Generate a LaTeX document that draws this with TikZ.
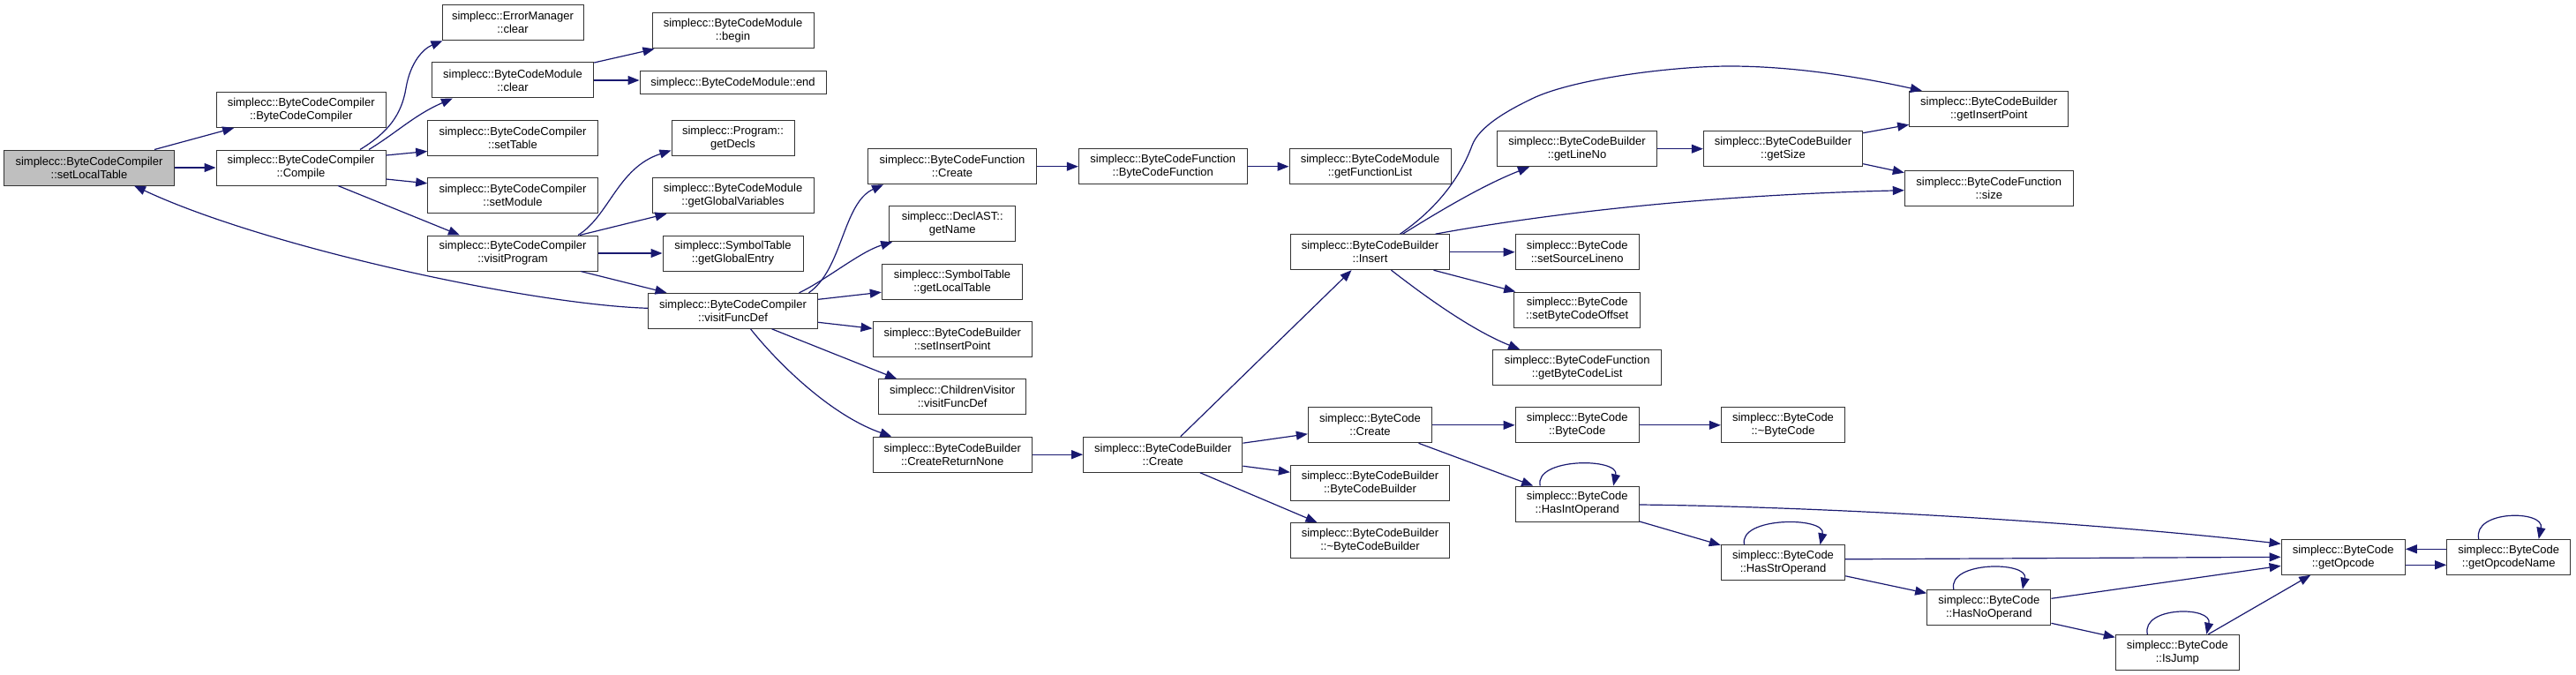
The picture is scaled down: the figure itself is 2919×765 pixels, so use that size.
\documentclass[tikz,border=0pt]{standalone}
\usepackage{fontspec}
\setmainfont{Liberation Sans}
\usetikzlibrary{arrows.meta}
\definecolor{edgeblue}{HTML}{191970}
\definecolor{boxgray}{HTML}{BFBFBF}
\begin{document}
\begin{tikzpicture}[x=1pt,y=-1pt,
 fn/.style={draw=black!80, line width=1pt, rectangle, minimum height=40pt, inner sep=0pt, align=center, font=\fontsize{13}{15}\selectfont, fill=white},
 conn/.style={draw=edgeblue, line width=1.2pt, -{Triangle[length=13pt,width=10pt]}},
]
\useasboundingbox (0,0) rectangle (2919,765);
% nodes
\node[fn, minimum width=192.6pt, fill=boxgray] (slt) at (101,190) {simplecc::ByteCodeCompiler\\::setLocalTable};
\node[fn, minimum width=192.3pt] (bcc) at (341.2,124.5) {simplecc::ByteCodeCompiler\\::ByteCodeCompiler};
\node[fn, minimum width=192pt] (cmp) at (341,190) {simplecc::ByteCodeCompiler\\::Compile};
\node[fn, minimum width=160pt] (emc) at (581,25.8) {simplecc::ErrorManager\\::clear};
\node[fn, minimum width=183.4pt] (bmc) at (581,91) {simplecc::ByteCodeModule\\::clear};
\node[fn, minimum width=192.6pt] (stt) at (581,156.5) {simplecc::ByteCodeCompiler\\::setTable};
\node[fn, minimum width=192.6pt] (stm) at (581,221.8) {simplecc::ByteCodeCompiler\\::setModule};
\node[fn, minimum width=192.6pt] (vp) at (581,287) {simplecc::ByteCodeCompiler\\::visitProgram};
\node[fn, minimum width=183pt] (bmb) at (830.5,35) {simplecc::ByteCodeModule\\::begin};
\node[fn, minimum width=211pt, minimum height=26pt] (bme) at (830.5,93.7) {simplecc::ByteCodeModule::end};
\node[fn, minimum width=139pt] (gd) at (830.5,156.5) {simplecc::Program::\\getDecls};
\node[fn, minimum width=183pt] (ggv) at (830.5,221.8) {simplecc::ByteCodeModule\\::getGlobalVariables};
\node[fn, minimum width=159pt] (gge) at (830.5,287) {simplecc::SymbolTable\\::getGlobalEntry};
\node[fn, minimum width=192.4pt] (vfd) at (830.5,352.3) {simplecc::ByteCodeCompiler\\::visitFuncDef};
\node[fn, minimum width=191.4pt] (bfc) at (1079,188.7) {simplecc::ByteCodeFunction\\::Create};
\node[fn, minimum width=143pt] (gn) at (1079.2,253.8) {simplecc::DeclAST::\\getName};
\node[fn, minimum width=159.4pt] (glt) at (1079,319.2) {simplecc::SymbolTable\\::getLocalTable};
\node[fn, minimum width=180.3pt] (sip) at (1079.2,384.3) {simplecc::ByteCodeBuilder\\::setInsertPoint};
\node[fn, minimum width=167pt] (cvf) at (1079.2,449.8) {simplecc::ChildrenVisitor\\::visitFuncDef};
\node[fn, minimum width=180.3pt] (crn) at (1079.2,515.2) {simplecc::ByteCodeBuilder\\::CreateReturnNone};
\node[fn, minimum width=191pt] (bfb) at (1317.8,188.7) {simplecc::ByteCodeFunction\\::ByteCodeFunction};
\node[fn, minimum width=180.3pt] (bbc) at (1317.8,515.2) {simplecc::ByteCodeBuilder\\::Create};
\node[fn, minimum width=183pt] (gfl) at (1552.5,188.7) {simplecc::ByteCodeModule\\::getFunctionList};
\node[fn, minimum width=180.4pt] (ins) at (1552.5,285.7) {simplecc::ByteCodeBuilder\\::Insert};
\node[fn, minimum width=140.4pt] (bcr) at (1552.5,481.8) {simplecc::ByteCode\\::Create};
\node[fn, minimum width=180.4pt] (bbb) at (1552.5,547.2) {simplecc::ByteCodeBuilder\\::ByteCodeBuilder};
\node[fn, minimum width=180.4pt] (dbb) at (1552.5,612.5) {simplecc::ByteCodeBuilder\\::\textasciitilde ByteCodeBuilder};
\node[fn, minimum width=180.6pt] (gln) at (1787,168.7) {simplecc::ByteCodeBuilder\\::getLineNo};
\node[fn, minimum width=140.3pt] (ssl) at (1787.2,285.7) {simplecc::ByteCode\\::setSourceLineno};
\node[fn, minimum width=143pt] (sbo) at (1787.2,351) {simplecc::ByteCode\\::setByteCodeOffset};
\node[fn, minimum width=191pt] (gbl) at (1787.2,416.5) {simplecc::ByteCodeFunction\\::getByteCodeList};
\node[fn, minimum width=140.3pt] (bcb) at (1787.2,481.8) {simplecc::ByteCode\\::ByteCode};
\node[fn, minimum width=140.3pt] (hio) at (1787.2,571) {simplecc::ByteCode\\::HasIntOperand};
\node[fn, minimum width=180.4pt] (gsz) at (2020.5,168.7) {simplecc::ByteCodeBuilder\\::getSize};
\node[fn, minimum width=140.4pt] (dbc) at (2020.5,481.8) {simplecc::ByteCode\\::\textasciitilde ByteCode};
\node[fn, minimum width=140.4pt] (hso) at (2020.5,637.8) {simplecc::ByteCode\\::HasStrOperand};
\node[fn, minimum width=180.3pt] (gip) at (2253.8,123.3) {simplecc::ByteCodeBuilder\\::getInsertPoint};
\node[fn, minimum width=191pt] (bfs) at (2253.8,213.7) {simplecc::ByteCodeFunction\\::size};
\node[fn, minimum width=140.3pt] (hno) at (2253.8,688.3) {simplecc::ByteCode\\::HasNoOperand};
\node[fn, minimum width=140pt] (isj) at (2467.3,739.3) {simplecc::ByteCode\\::IsJump};
\node[fn, minimum width=140.3pt] (goc) at (2655.2,631.3) {simplecc::ByteCode\\::getOpcode};
\node[fn, minimum width=140pt] (gon) at (2842.7,631.3) {simplecc::ByteCode\\::getOpcodeName};
% edges
\draw[conn] ([xshift=74pt]slt.north) -- ([xshift=-76pt]bcc.south);
\draw[conn] (slt.east) -- (cmp.west);
\draw[conn] ([yshift=3pt]vfd.west) .. controls (600,345) and (300,280) .. ([xshift=51pt]slt.south);
\draw[conn] ([xshift=67pt]cmp.north) .. controls (440,150) and (455,130) .. (460,100) .. controls (465,70) and (480,55) .. ([xshift=1pt]emc.south west);
\draw[conn] ([xshift=77pt]cmp.north) .. controls (450,150) and (470,130) .. ([xshift=-68pt]bmc.south);
\draw[conn] ([yshift=14pt]cmp.east) -- ([yshift=-15pt]stt.west);
\draw[conn] ([yshift=-13pt]cmp.east) -- ([yshift=14pt]stm.west);
\draw[conn] ([xshift=42pt]cmp.south) -- ([xshift=-60pt]vp.north);
\draw[conn] ([yshift=20pt]bmc.east) -- ([xshift=-89pt]bmb.south);
\draw[conn] (bmc.east) -- (bmc.east -| bme.west);
\draw[conn] ([xshift=74pt]vp.north) .. controls (690,245) and (700,190) .. ([yshift=-14pt]gd.west);
\draw[conn] ([xshift=76pt]vp.north) -- ([xshift=-75pt]ggv.south);
\draw[conn] (vp.east) -- (gge.west);
\draw[conn] ([xshift=77pt]vp.south) -- ([xshift=-75pt]vfd.north);
\draw[conn] ([xshift=86pt]vfd.north) .. controls (955,305) and (955,230) .. ([xshift=-78pt]bfc.south);
\draw[conn] ([xshift=75pt]vfd.north) .. controls (935,318) and (975,285) .. ([xshift=-68pt]gn.south);
\draw[conn] ([yshift=13pt]vfd.east) -- ([yshift=-12pt]glt.west);
\draw[conn] ([yshift=-13pt]vfd.east) -- ([yshift=12pt]sip.west);
\draw[conn] ([xshift=44pt]vfd.south) -- ([xshift=-63pt]cvf.north);
\draw[conn] ([xshift=20pt]vfd.south) .. controls (880,410) and (940,470) .. ([xshift=-69pt]crn.north);
\draw[conn] (bfc.east) -- (bfb.west);
\draw[conn] (bfb.east) -- (gfl.west);
\draw[conn] (crn.east) -- (bbc.west);
\draw[conn] ([xshift=20pt]bbc.north) -- ([xshift=-21pt]ins.south);
\draw[conn] ([yshift=13pt]bbc.east) -- ([yshift=-10pt]bcr.west);
\draw[conn] ([yshift=-13pt]bbc.east) -- ([yshift=12pt]bbb.west);
\draw[conn] ([xshift=42pt]bbc.south) -- ([xshift=-60pt]dbb.north);
\draw[conn] ([xshift=34pt]ins.north) .. controls (1630,235) and (1655,200) .. (1668,165) .. controls (1676,143) and (1710,124) .. (1740,110) .. controls (1790,88) and (1900,75) .. (1960,75) .. controls (2040,75) and (2120,90) .. ([xshift=-76pt]gip.north);
\draw[conn] ([xshift=37pt]ins.north) .. controls (1630,240) and (1680,210) .. ([xshift=-54pt]gln.south);
\draw[conn] ([xshift=74pt]ins.north) .. controls (1720,248) and (1900,222) .. ([yshift=-2pt]bfs.west);
\draw[conn] (ins.east) -- (ssl.west);
\draw[conn] ([xshift=72pt]ins.south) -- ([xshift=-70pt]sbo.north);
\draw[conn] ([xshift=24pt]ins.south) .. controls (1620,340) and (1670,375) .. ([xshift=-65pt]gbl.north);
\draw[conn] (gln.east) -- (gsz.west);
\draw[conn] ([yshift=18pt]gsz.east) -- ([yshift=-18pt]gip.west);
\draw[conn] ([yshift=-17pt]gsz.east) -- ([yshift=18pt]bfs.west);
\draw[conn] (bcr.east) -- (bcb.west);
\draw[conn] (bcb.east) -- (dbc.west);
\draw[conn] ([xshift=55pt]bcr.south) -- ([xshift=-50pt]hio.north);
\draw[conn] ([xshift=-42pt]hio.north) .. controls ([xshift=-49pt,yshift=32pt]hio.north) and ([xshift=48pt,yshift=32pt]hio.north) .. ([xshift=41pt]hio.north);
\draw[conn] ([yshift=-1pt]hio.east) .. controls (2050,574) and (2350,590) .. ([yshift=15pt]goc.west);
\draw[conn] ([yshift=-20pt]hio.east) -- ([yshift=20pt]hso.west);
\draw[conn] ([xshift=-44pt]hso.north) .. controls ([xshift=-51pt,yshift=32pt]hso.north) and ([xshift=49pt,yshift=32pt]hso.north) .. ([xshift=42pt]hso.north);
\draw[conn] ([yshift=4pt]hso.east) -- (goc.west);
\draw[conn] ([yshift=-15pt]hso.east) -- ([yshift=16pt]hno.west);
\draw[conn] ([xshift=-40pt]hno.north) .. controls ([xshift=-47pt,yshift=32pt]hno.north) and ([xshift=45pt,yshift=32pt]hno.north) .. ([xshift=38pt]hno.north);
\draw[conn] ([yshift=10pt]hno.east) -- ([yshift=-10pt]goc.west);
\draw[conn] ([yshift=-18pt]hno.east) -- ([yshift=17pt]isj.west);
\draw[conn] ([xshift=-34pt]isj.north) .. controls ([xshift=-41pt,yshift=32pt]isj.north) and ([xshift=40pt,yshift=32pt]isj.north) .. ([xshift=33pt]isj.north);
\draw[conn] ([xshift=35pt]isj.north) -- ([xshift=-37pt]goc.south);
\draw[conn] ([yshift=9pt]gon.west) -- ([yshift=9pt]goc.east);
\draw[conn] ([yshift=-9pt]goc.east) -- ([yshift=-9pt]gon.west);
\draw[conn] ([xshift=-34pt]gon.north) .. controls ([xshift=-41pt,yshift=33pt]gon.north) and ([xshift=41pt,yshift=33pt]gon.north) .. ([xshift=34pt]gon.north);
\end{tikzpicture}
\end{document}
